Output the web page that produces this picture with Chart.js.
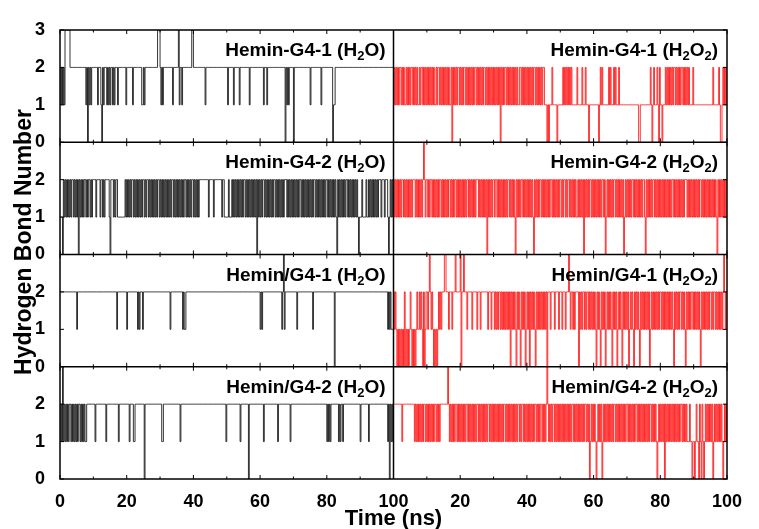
<!DOCTYPE html>
<html>
<head>
<meta charset="utf-8">
<script src="https://cdn.jsdelivr.net/npm/chart.js@4.4.0/dist/chart.umd.min.js"></script>
<style>
  html, body { margin: 0; padding: 0; background: #fff; }
  #wrap { width: 759px; height: 529px; }
</style>
</head>
<body>
<div id="wrap"><canvas id="hbChart" width="759" height="529"></canvas></div>
<script>
// one frame every 0.25 ns, each panel runs 0-100 ns
const FRAME = 0.25;
const timeTicks = [0, 20, 40, 60, 80, 100];
const bondTicks = [0, 1, 2, 3];
const systems = ['Hemin-G4-1', 'Hemin-G4-2', 'Hemin/G4-1', 'Hemin/G4-2'];
const solvents = ['H₂O', 'H₂O₂'];

// sparse traces: [time (ns), values from that frame on]; all other frames sit at 2
const g41Water = [[0, '2121213333332'], [7.75, '1'], [8.25, '0'], [8.75, '1'], [9.25, '1'], [11.25, '1'],
  [12.25, '10'], [13, '1'], [14, '1'], [14.5, '1'], [15, '1'], [15.75, '1'], [16.25, '1'], [17.25, '1'],
  [19.75, '1'], [21.75, '1'], [24.5, '11'], [25.25, '1'], [29.25, '333'], [30.25, '1'], [30.75, '1'],
  [33.75, '1'], [35.5, '31'], [36.5, '1'], [39.5, '33'], [43.5, '1'], [50.25, '1'], [52, '1'], [53.75, '1'],
  [56.75, '1'], [61, '1'], [62, '1'], [67.5, '0'], [68, '1'], [68.5, '1'], [70, '0'], [75, '1'],
  [78.25, '1'], [81.75, '011']];

const hG41Water = [[5, '1'], [17, '1'], [20, '1'], [23.25, '1'], [23.75, '1'], [24.75, '1'], [33, '1'],
  [36.75, '1'], [37.25, '11'], [60, '1'], [60.5, '1'], [66.5, '1'], [67, '31'], [71, '1'], [75.75, '1'],
  [82.25, '0'], [98.25, '1'], [98.75, '1'], [99.25, '1111']];

const hG42Water = [[0, '1213121212122121212121221212'], [7, '1'], [7.5, '11'], [10.5, '1'], [13.75, '1'],
  [17.5, '1'], [20.75, '1'], [22, '11'], [25.25, '0'], [30.5, '11'], [36, '1'], [49.75, '1'], [54, '1'],
  [56.5, '0'], [61, '1'], [65.25, '1'], [69, '1'], [80, '12121'], [83.5, '1'], [84, '1'], [84.75, '1'],
  [90, '1'], [92.5, '1'], [98.25, '1'], [98.75, '0'], [99.25, '121']];

// dense traces: every frame written out, 40 frames (10 ns) per line
const g41Peroxide = `
1212121221 2121121212 1221212121 1212212121
2121212121 1212212121 2121212112 0212121221
2121221212 1212121221 2121212122 1212121212
1212121202 1212212121 2121212121 1221212121
2121212122 1212121212 2111010111 2111110111
1112121212 1212111111 2111112111 2111011111
1111110121 2111111121 2111212111 2111111111
1111111111 1111001111 1111111121 0121112102
1101112121 2121212212 1212122121 2121211112
1111111111 1111111111 1112111111 2100121212
2`;

const g42Water = `
1110212121 2121221212 1202121212 2121221212
2221222212 2121222221 0222121221 1111111121
2121212212 1212121212 2121221212 1212121221
2121212121 2121221212 1212121212 2121212122
1212121222 2222222212 2222122222 2222122111
1121112121 2121212121 2212121212 1212120212
1212212121 2121212212 1212121212 2212121212
1212121221 2121212121 2121221212 1212121212
2121212121 2102121212 1212212121 2121212101
1121111211 2121212121 2122212221 2221012121
1`;

const g42Peroxide = `
2121212121 2212121212 1212221212 1212123212
2121221212 1212122121 2121212212 1212212121
2121212122 1212121212 2212121212 1202121212
2122121212 1212121221 2121210212 1212212121
2121212102 1212122121 2121212122 1212121212
2121221212 2121212121 1212121202 1212122121
2121212121 2212012121 2121221212 1212120121
2121212212 1212121212 2102121212 1221212121
2121212121 2121221212 1212121212 2212121212
1212121221 2121212121 2121212102 1212121212
2`;

const hG41Peroxide = `
2121010101 0102010101 2101010121 1212102012
2123212101 0101212122 2332221222 1222322222
3022322212 2222122222 1222122222 2221222122
2121212212 1212121212 0212121021 2102121201
2120212121 0212121212 1212022212 2221222212
2212221222 3212212122 2202121221 2122121212
1210212102 1212012121 2102121201 2121021212
1201212102 1212102121 2121212012 1212121212
2121212121 2121210212 1212212121 0212121221
2121212102 1212121212 2121221212 1212123212
2`;

const hG42Peroxide = `
2222222222 1222222222 2222212121 2121212212
1212121212 2121212222 2222232121 2121221212
1212121221 2121212121 2212121212 1212212121
2121212121 2122121212 1212121212 2121221212
1212121212 2121212212 1212321212 1221212121
2121212121 2121221212 1212121212 2121201212
1210121212 0121212121 2121221212 1212121212
2121212121 2212121212 1212121221 2121210121
2121202121 2121212121 2121221212 1211121101
1012110210 2101212121 2120121212 1212101212
1`;

const FONT = '"Liberation Sans", Arial, sans-serif';

function framesFrom(base, runs) {
  const f = new Array(401).fill(base);
  runs.forEach(([t, digits]) => {
    const start = Math.round(t / FRAME);
    for (let k = 0; k < digits.length && start + k < f.length; k++) f[start + k] = Number(digits[k]);
  });
  return f;
}
const dense = s => [[0, s.replace(/\s+/g, '')]];

// row 0 is the top strip, side 0 = water (left), side 1 = peroxide (right)
const traces = [
  { row: 0, side: 0, frames: framesFrom(2, g41Water) },
  { row: 0, side: 1, frames: framesFrom(2, dense(g41Peroxide)) },
  { row: 1, side: 0, frames: framesFrom(2, dense(g42Water)) },
  { row: 1, side: 1, frames: framesFrom(2, dense(g42Peroxide)) },
  { row: 2, side: 0, frames: framesFrom(2, hG41Water) },
  { row: 2, side: 1, frames: framesFrom(2, dense(hG41Peroxide)) },
  { row: 3, side: 0, frames: framesFrom(2, hG42Water) },
  { row: 3, side: 1, frames: framesFrom(2, dense(hG42Peroxide)) }
];

function drawChemLabel(ctx, text, xRight, yMid) {
  const big = 'bold 19px ' + FONT, small = 'bold 13px ' + FONT;
  const segs = text.split('₂');
  let w = 0;
  segs.forEach((s, i) => {
    ctx.font = big; w += ctx.measureText(s).width;
    if (i < segs.length - 1) { ctx.font = small; w += ctx.measureText('2').width; }
  });
  let x = xRight - w;
  const base = yMid + 7;
  segs.forEach((s, i) => {
    ctx.font = big; ctx.fillText(s, x, base); x += ctx.measureText(s).width;
    if (i < segs.length - 1) { ctx.font = small; ctx.fillText('2', x, base + 4); x += ctx.measureText('2').width; }
  });
}

const panelFrame = {
  id: 'panelFrame',
  afterDatasetsDraw(chart) {
    const { ctx, chartArea: a, scales: { x, y } } = chart;
    ctx.save();
    ctx.strokeStyle = '#000';
    ctx.lineWidth = 1.5;
    ctx.strokeRect(a.left, a.top, a.right - a.left, a.bottom - a.top);
    ctx.beginPath();
    [3, 6, 9].forEach(v => {
      const py = y.getPixelForValue(v);
      ctx.moveTo(a.left, py); ctx.lineTo(a.right, py);
    });
    const mid = x.getPixelForValue(100);
    ctx.moveTo(mid, a.top); ctx.lineTo(mid, a.bottom);
    ctx.stroke();

    // inward ticks on every strip edge
    ctx.lineWidth = 1;
    ctx.beginPath();
    for (let v = 0; v <= 12; v += 3) {
      const py = y.getPixelForValue(v);
      for (let t = 0; t <= 200; t += 10) {
        const px = x.getPixelForValue(t);
        const len = t % 20 === 0 ? 4 : 2.5;
        if (v < 12) { ctx.moveTo(px, py); ctx.lineTo(px, py - len); }
        if (v > 0) { ctx.moveTo(px, py); ctx.lineTo(px, py + len); }
      }
    }
    for (let v = 0; v <= 12; v++) {
      const py = y.getPixelForValue(v);
      ctx.moveTo(a.left, py); ctx.lineTo(a.left + 4, py);
      ctx.moveTo(a.right, py); ctx.lineTo(a.right - 4, py);
    }
    ctx.stroke();

    ctx.fillStyle = '#000';
    ctx.textAlign = 'left';
    ctx.textBaseline = 'alphabetic';
    systems.forEach((name, r) => {
      const top = y.getPixelForValue((4 - r) * 3);
      solvents.forEach((sol, s) => {
        const xr = x.getPixelForValue((s + 1) * 100) - (s ? 9 : 8);
        drawChemLabel(ctx, name + ' (' + sol + ')', xr, top + 19);
      });
    });

    ctx.font = 'bold 22px ' + FONT;
    ctx.textAlign = 'center';
    ctx.textBaseline = 'middle';
    ctx.fillText('Time (ns)', mid, 519);
    ctx.translate(25, 242);
    ctx.rotate(-Math.PI / 2);
    ctx.font = 'bold 23px ' + FONT;
    ctx.fillText('Hydrogen Bond Number', 0, 0);
    ctx.restore();
  }
};

new Chart(document.getElementById('hbChart').getContext('2d'), {
  type: 'line',
  data: {
    datasets: traces.map(tr => ({
      data: tr.frames.map((v, i) => ({ x: tr.side * 100 + i * FRAME, y: (3 - tr.row) * 3 + v })),
      borderColor: tr.side ? '#ff0000' : '#000000',
      borderWidth: 0.8,
      stepped: true,
      pointRadius: 0,
      fill: false
    }))
  },
  options: {
    responsive: false,
    animation: false,
    devicePixelRatio: 1,
    events: [],
    layout: { padding: { top: 30, right: 32, bottom: 0, left: 0 } },
    plugins: { legend: { display: false }, tooltip: { enabled: false } },
    scales: {
      x: {
        type: 'linear', min: 0, max: 200,
        afterBuildTicks: s => {
          s.ticks = timeTicks.concat(timeTicks.slice(1).map(t => t + 100)).map(v => ({ value: v }));
        },
        ticks: {
          autoSkip: false, maxRotation: 0, padding: 4, color: '#000',
          font: { family: FONT, size: 18, weight: 'bold' },
          callback: v => (v > 100 ? v - 100 : v)
        },
        grid: { display: false },
        border: { display: false },
        afterFit: s => { s.height = 50; }
      },
      y: {
        type: 'linear', min: 0, max: 12,
        afterBuildTicks: s => {
          const vals = [0, 3, 6, 9].flatMap(o => bondTicks.slice(0, 3).map(b => o + b)).concat([12]);
          s.ticks = vals.map(v => ({ value: v }));
        },
        ticks: {
          padding: 7, color: '#000',
          font: { family: FONT, size: 18, weight: 'bold' },
          callback: v => (v === 12 ? bondTicks[3] : v % 3)
        },
        grid: { display: false },
        border: { display: false },
        afterFit: s => { s.width = 60; }
      }
    }
  },
  plugins: [panelFrame]
});
</script>
</body>
</html>
